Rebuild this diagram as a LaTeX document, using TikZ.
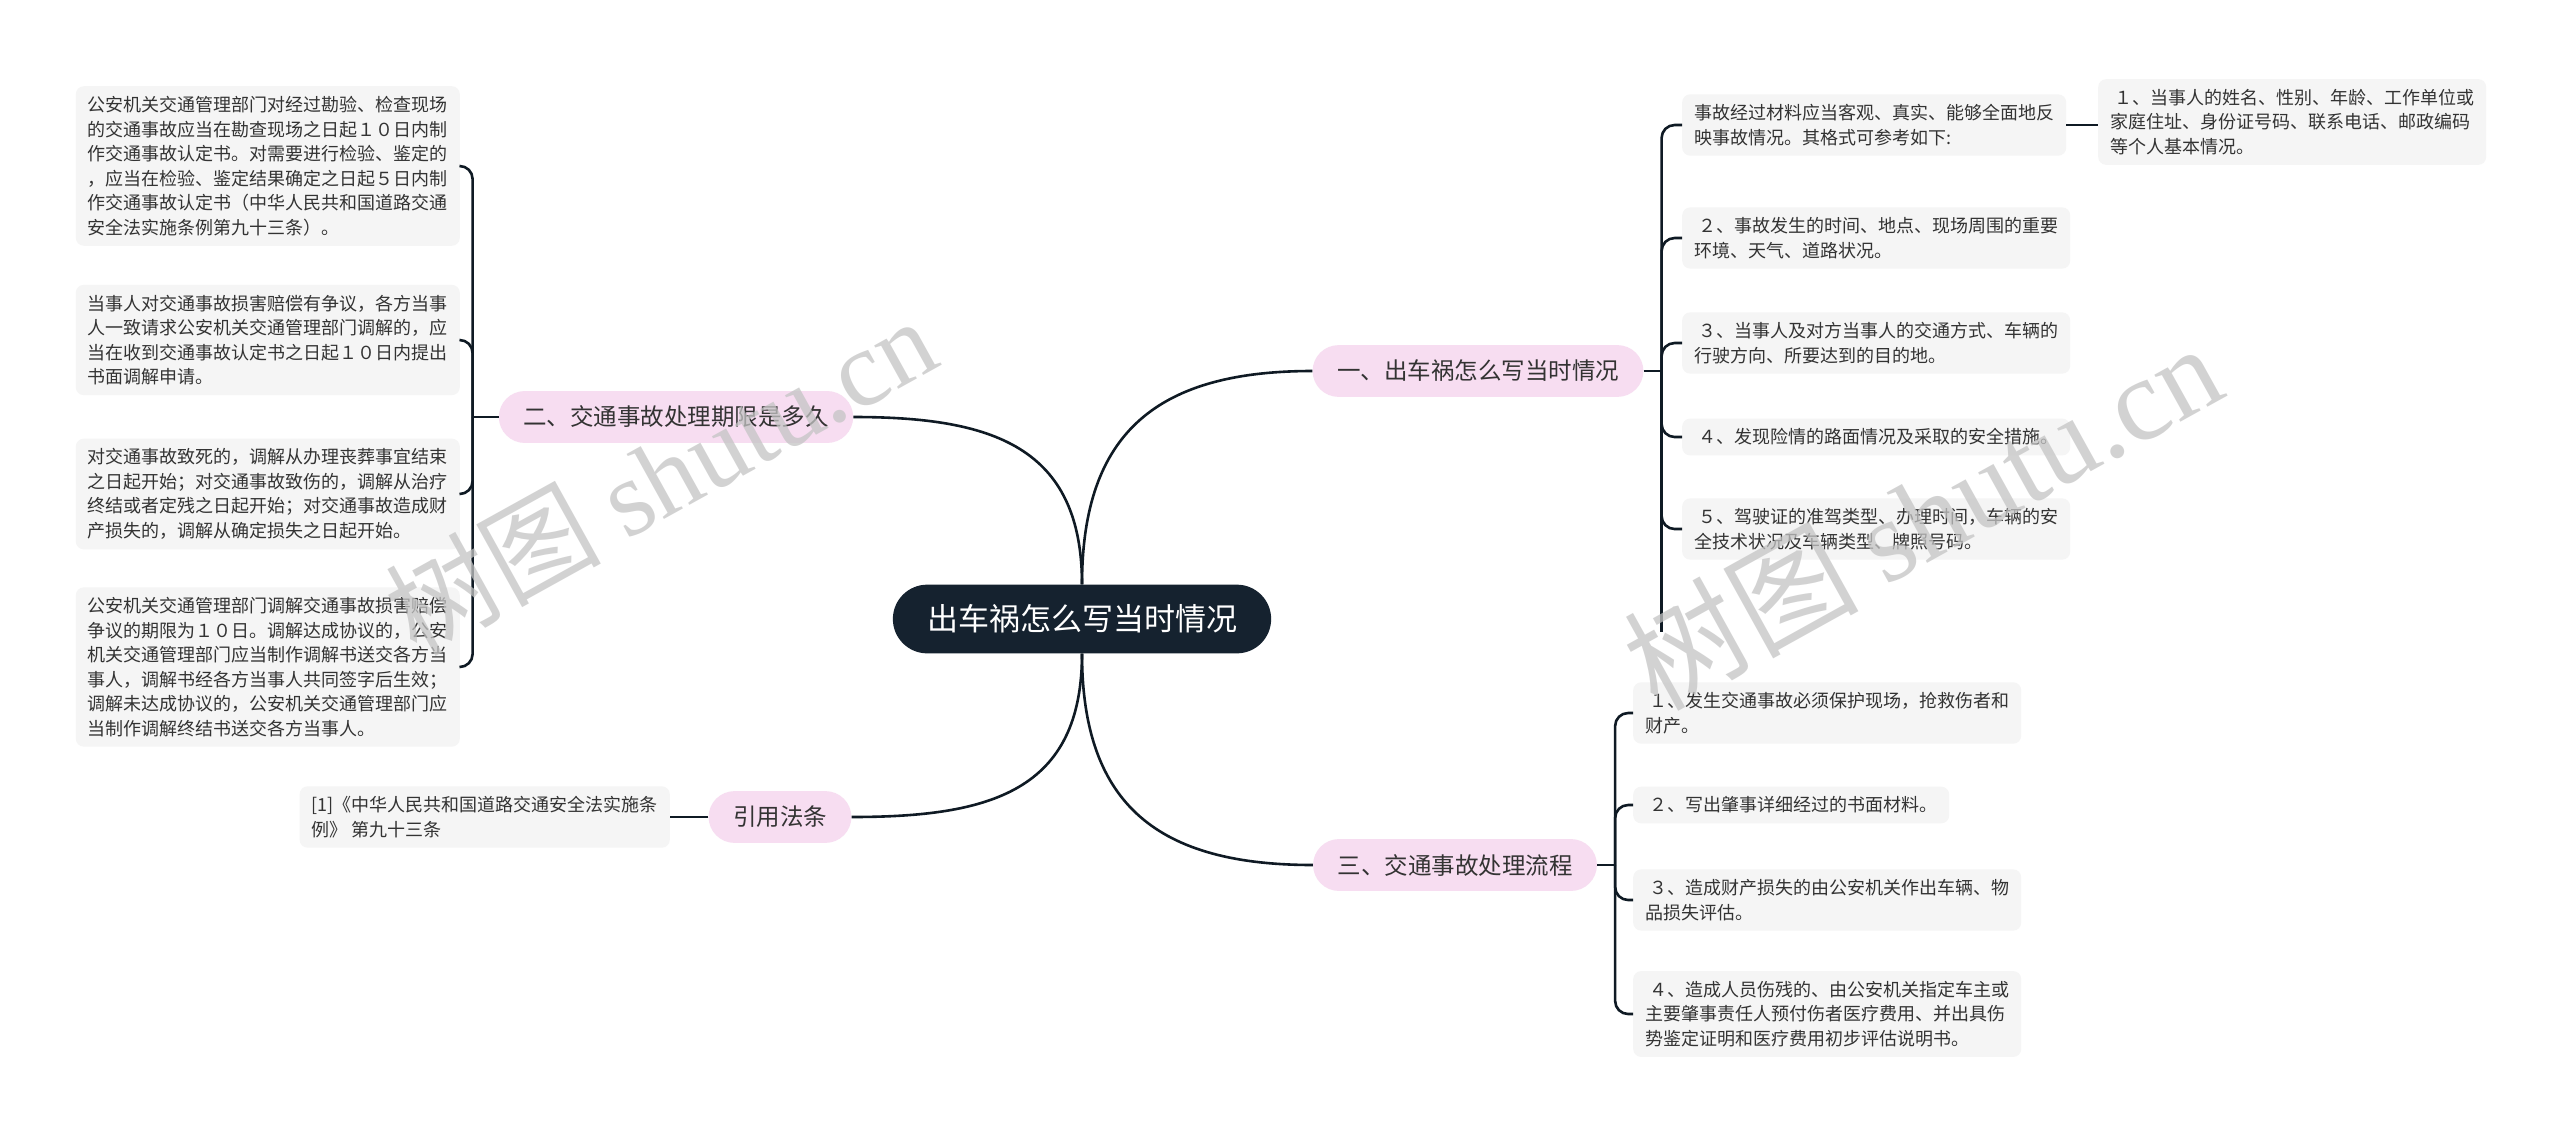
\documentclass[tikz,border=0pt]{standalone}
\usepackage{fontspec}
\newfontfamily\cjk{Noto Sans CJK SC}
\newfontfamily\wmserif{Liberation Serif}
\usetikzlibrary{positioning,shapes.misc}

\definecolor{rootfill}{HTML}{15222F}
\definecolor{branchfill}{HTML}{F7DDF1}
\definecolor{leaffill}{HTML}{F5F5F5}
\definecolor{linecol}{HTML}{0F1A24}
\definecolor{txtcol}{HTML}{333333}
\definecolor{wmcol}{HTML}{C4C4C4}

\tikzset{
    rootnode/.style={rounded rectangle, fill=rootfill, text=white, inner xsep=31pt, inner ysep=20pt,
        font=\cjk\fontsize{31}{36}\selectfont},
    branchnode/.style={rounded rectangle, fill=branchfill, text=txtcol, inner xsep=22pt, inner ysep=15pt,
        font=\cjk\fontsize{23.5}{28}\selectfont},
    leafnode/.style={fill=leaffill, text=txtcol, rounded corners=8pt, inner xsep=12pt, inner ysep=10pt,
        align=left, font=\cjk\fontsize{18}{24.5}\selectfont},
    link/.style={draw=linecol, line width=2.6pt},
    wmark/.style={text=wmcol, text opacity=0.75, rotate=29, font=\cjk\fontsize{108}{120}\selectfont}
}

\begin{document}
\begin{tikzpicture}[x=1pt, y=1pt]
    \useasboundingbox (0,0) rectangle (2560,-1138);
    \fill[white] (0,0) rectangle (2560,-1138);

    % centre and main topics
    \node[rootnode] (root) at (1082,-619) {出车祸怎么写当时情况};
    \node[branchnode] (sit) at (1478,-371) {一、出车祸怎么写当时情况};
    \node[branchnode] (term) at (676,-417) {二、交通事故处理期限是多久};
    \node[branchnode] (proc) at (1455,-865) {三、交通事故处理流程};
    \node[branchnode] (law) at (780,-817) {引用法条};

    % topic one
    \node[leafnode, anchor=west] (sit1) at (1682,-125) {事故经过材料应当客观、真实、能够全面地反\\映事故情况。其格式可参考如下:};
    \node[leafnode, anchor=west] (sit1a) at (2098,-122) {\hspace*{4pt}１、当事人的姓名、性别、年龄、工作单位或\\家庭住址、身份证号码、联系电话、邮政编码\\等个人基本情况。};
    \node[leafnode, anchor=west] (sit2) at (1682,-238) {\hspace*{4pt}２、事故发生的时间、地点、现场周围的重要\\环境、天气、道路状况。};
    \node[leafnode, anchor=west] (sit3) at (1682,-343) {\hspace*{4pt}３、当事人及对方当事人的交通方式、车辆的\\行驶方向、所要达到的目的地。};
    \node[leafnode, anchor=west] (sit4) at (1682,-437) {\hspace*{4pt}４、发现险情的路面情况及采取的安全措施。};
    \node[leafnode, anchor=west] (sit5) at (1682,-529) {\hspace*{4pt}５、驾驶证的准驾类型、办理时间，车辆的安\\全技术状况及车辆类型、牌照号码。};

    % topic two
    \node[leafnode, anchor=east] (term1) at (460,-166) {公安机关交通管理部门对经过勘验、检查现场\\的交通事故应当在勘查现场之日起１０日内制\\作交通事故认定书。对需要进行检验、鉴定的\\，应当在检验、鉴定结果确定之日起５日内制\\作交通事故认定书（中华人民共和国道路交通\\安全法实施条例第九十三条）。};
    \node[leafnode, anchor=east] (term2) at (460,-340) {当事人对交通事故损害赔偿有争议，各方当事\\人一致请求公安机关交通管理部门调解的，应\\当在收到交通事故认定书之日起１０日内提出\\书面调解申请。};
    \node[leafnode, anchor=east] (term3) at (460,-494) {对交通事故致死的，调解从办理丧葬事宜结束\\之日起开始；对交通事故致伤的，调解从治疗\\终结或者定残之日起开始；对交通事故造成财\\产损失的，调解从确定损失之日起开始。};
    \node[leafnode, anchor=east] (term4) at (460,-667) {公安机关交通管理部门调解交通事故损害赔偿\\争议的期限为１０日。调解达成协议的，公安\\机关交通管理部门应当制作调解书送交各方当\\事人，调解书经各方当事人共同签字后生效；\\调解未达成协议的，公安机关交通管理部门应\\当制作调解终结书送交各方当事人。};

    % topic three
    \node[leafnode, anchor=west] (proc1) at (1633,-713) {\hspace*{4pt}１、发生交通事故必须保护现场，抢救伤者和\\财产。};
    \node[leafnode, anchor=west] (proc2) at (1633,-805) {\hspace*{4pt}２、写出肇事详细经过的书面材料。};
    \node[leafnode, anchor=west] (proc3) at (1633,-900) {\hspace*{4pt}３、造成财产损失的由公安机关作出车辆、物\\品损失评估。};
    \node[leafnode, anchor=west] (proc4) at (1633,-1014) {\hspace*{4pt}４、造成人员伤残的、由公安机关指定车主或\\主要肇事责任人预付伤者医疗费用、并出具伤\\势鉴定证明和医疗费用初步评估说明书。};

    % reference
    \node[leafnode, anchor=east] (law1) at (670,-817) {[1]《中华人民共和国道路交通安全法实施条\\例》 第九十三条};

    % root to topics
    \draw[link] (root.north) to[out=90, in=180, looseness=1.25] (sit.west);
    \draw[link] (root.north) to[out=90, in=0, looseness=1.25] (term.east);
    \draw[link] (root.south) to[out=-90, in=180, looseness=1.25] (proc.west);
    \draw[link] (root.south) to[out=-90, in=0, looseness=1.25] (law.east);

    % topic one children
    \coordinate (sitj) at ([xshift=18pt]sit.east);
    \coordinate (sitend) at (sitj |- 0,-632);
    \draw[link] (sit.east) -- (sitj) -- (sitend);
    \foreach \c in {sit1, sit2, sit3, sit4, sit5}
        \draw[link, rounded corners=13pt] (sitj) |- (\c.west);
    \draw[link] (sit1.east) -- (sit1.east -| sit1a.west);

    % topic two children
    \coordinate (termj) at ([xshift=-26pt]term.west);
    \draw[link] (term.west) -- (termj);
    \foreach \c in {term1, term2, term3, term4}
        \draw[link, rounded corners=13pt] (termj) |- (\c.east);

    % topic three children
    \coordinate (procj) at ([xshift=18pt]proc.east);
    \draw[link] (proc.east) -- (procj);
    \foreach \c in {proc1, proc2, proc3, proc4}
        \draw[link, rounded corners=13pt] (procj) |- (\c.west);

    \draw[link] (law.west) -- (law1.east);

    % watermarks
    \node[wmark] (wm1) at (660,-475) {树图 {\wmserif shutu.cn}};
    \node[wmark, font=\cjk\fontsize{117}{125}\selectfont] (wm2) at (1922,-515) {树图 {\wmserif shutu.cn}};
\end{tikzpicture}
\end{document}
